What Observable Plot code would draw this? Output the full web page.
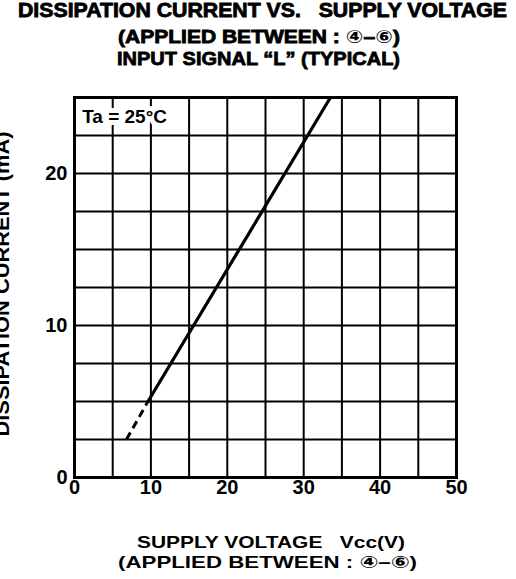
<!DOCTYPE html>
<html><head><meta charset="utf-8">
<script src="https://cdn.jsdelivr.net/npm/d3@7"></script>
<script src="https://cdn.jsdelivr.net/npm/@observablehq/plot@0.6"></script>
<style>
html,body{margin:0;padding:0;background:#fff;}
#wrap{position:relative;width:516px;height:579px;overflow:hidden;background:#fff;font-family:"Liberation Sans",Arial,sans-serif;color:#000;}
.t{position:absolute;white-space:pre;line-height:1;font-weight:bold;transform-origin:0 0;}
.heavy{-webkit-text-stroke:0.8px #000;}
.circ{font-family:"DejaVu Sans","Noto Sans CJK JP",sans-serif;font-size:1em;-webkit-text-stroke:0;font-weight:bold;}
#chart{position:absolute;left:0;top:90px;}
</style></head><body>
<div id="wrap"><div id="chart"></div></div>
<script>
// ---- text content ----
const titleLines = [
  "DISSIPATION CURRENT VS.   SUPPLY VOLTAGE",
  "(APPLIED BETWEEN : \u2463\u2013\u2465)",
  "INPUT SIGNAL \u201CL\u201D (TYPICAL)"
];
const xLabelLines = [
  "SUPPLY VOLTAGE   Vcc(V)",
  "(APPLIED BETWEEN : \u2463\u2013\u2465)"
];
const yLabel = "DISSIPATION CURRENT (mA)";
const taLabel = "Ta = 25\u00B0C";

// ---- axes / grid ----
const xTicks = [0, 10, 20, 30, 40, 50];
const yTicks = [0, 10, 20];
const gridX = [5, 10, 15, 20, 25, 30, 35, 40, 45];
const gridY = [2.5, 5, 7.5, 10, 12.5, 15, 17.5, 20, 22.5];

// ---- data ----
const solidVcc = [9.5, 33.5];
const solidIcc = [4.9, 25];
const dashVcc = [6.8, 9.5];
const dashIcc = [2.5, 4.9];

const solid = solidVcc.map((v, i) => ({vcc: v, icc: solidIcc[i]}));
const dashed = dashVcc.map((v, i) => ({vcc: v, icc: dashIcc[i]}));

const wrap = document.getElementById("wrap");

function fillText(el, text) {
  // circled digits get their own span so a font that draws them is used
  for (const ch of text) {
    if (/[\u2460-\u2473]/.test(ch)) {
      const s = document.createElement("span");
      s.className = "circ";
      s.textContent = ch;
      el.appendChild(s);
    } else {
      el.appendChild(document.createTextNode(ch));
    }
  }
}

function addLine(text, left, right, capTop, fs, heavy) {
  const d = document.createElement("div");
  d.className = "t" + (heavy ? " heavy" : "");
  fillText(d, text);
  d.style.fontSize = fs + "px";
  d.style.left = left + "px";
  d.style.top = (capTop - 0.13 * fs) + "px";
  wrap.appendChild(d);
  const w = d.getBoundingClientRect().width;
  d.style.transform = `scaleX(${(right - left) / w})`;
}

addLine(titleLines[0], 18, 507, 4, 19.5, true);
addLine(titleLines[1], 118, 400, 30, 18, true);
addLine(titleLines[2], 117, 400, 51, 19, true);
addLine(xLabelLines[0], 137, 405, 536, 17, false);
addLine(xLabelLines[1], 118, 417, 556, 17, false);

// rotated y label
(function(){
  const fs = 20, xc = 2, yc = 284, len = 305;
  const d = document.createElement("div");
  d.className = "t";
  d.textContent = yLabel;
  d.style.fontSize = fs + "px";
  wrap.appendChild(d);
  const w = d.getBoundingClientRect().width;
  d.style.left = (xc - w / 2) + "px";
  d.style.top = (yc - fs / 2) + "px";
  d.style.transformOrigin = "50% 50%";
  d.style.transform = `rotate(-90deg) scaleX(${len / w})`;
})();

const plot = Plot.plot({
  width: 516, height: 420,
  marginLeft: 74, marginRight: 60, marginTop: 7, marginBottom: 33,
  style: {fontFamily: "Liberation Sans, Arial, sans-serif", fontWeight: "bold", fontSize: "20px", color: "#000", background: "#fff", overflow: "visible"},
  x: {domain: [0, 50]},
  y: {domain: [0, 25]},
  marks: [
    Plot.ruleX(gridX, {stroke: "#000", strokeWidth: 2}),
    Plot.ruleY(gridY, {stroke: "#000", strokeWidth: 2}),
    Plot.line(dashed, {x: "vcc", y: "icc", stroke: "#000", strokeWidth: 3, strokeDasharray: "8,5", strokeLinecap: "butt"}),
    Plot.line(solid, {x: "vcc", y: "icc", stroke: "#000", strokeWidth: 3.2, strokeLinecap: "butt"}),
    Plot.frame({stroke: "#000", strokeWidth: 3}),
    Plot.axisX(xTicks, {tickSize: 0, tickPadding: 2, label: null, fontSize: 20, fontWeight: "bold"}),
    Plot.axisY(yTicks, {tickSize: 0, tickPadding: 7, label: null, fontSize: 20, fontWeight: "bold"}),
    Plot.text([taLabel], {x: 1.0, y: 23.75, text: d => d, textAnchor: "start", fontSize: 19, fontWeight: "bold", fill: "#000", stroke: "#fff", strokeWidth: 10, strokeLinejoin: "round", paintOrder: "stroke"})
  ]
});
document.getElementById("chart").appendChild(plot);
</script>
</body></html>
